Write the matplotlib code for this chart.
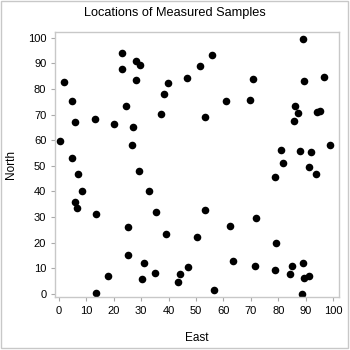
import matplotlib.pyplot as plt
from matplotlib.patches import Rectangle

plt.rcParams['font.family'] = ['Liberation Sans', 'DejaVu Sans']

east = [2.1, 4.7, 6.0, 0.6, 4.7, 13.4, 20.3, 23.1, 22.9, 24.5, 27.2, 26.6, 28.0, 28.1, 29.8,
        39.8, 38.5, 37.2, 46.7, 51.4, 55.7, 53.2, 61.0, 69.6, 70.8,
        88.9, 89.3, 96.7, 86.0, 87.2, 85.7, 93.9, 95.3, 98.8, 81.0, 87.7, 92.0, 81.6, 91.2,
        93.6, 78.6, 71.9, 79.0, 71.3, 78.7, 85.0, 84.3, 88.8, 89.4, 91.1, 88.6,
        7.2, 8.4, 6.1, 6.6, 13.6, 13.6, 18.0, 25.1, 25.1, 29.2, 31.2, 30.4, 32.8,
        35.5, 39.2, 53.3, 50.3, 62.4, 63.5, 35.0, 47.1, 44.1, 43.3, 56.5]
north = [82.9, 75.2, 67.2, 59.8, 53.0, 68.4, 66.4, 94.1, 87.7, 73.2, 65.2, 58.2, 83.4, 91.1, 89.4,
         82.5, 78.0, 70.4, 84.2, 88.9, 93.1, 69.0, 75.2, 75.8, 83.8,
         99.7, 83.0, 84.5, 73.2, 70.6, 67.4, 71.1, 71.6, 58.3, 56.0, 55.9, 55.6, 51.3, 49.7,
         46.9, 45.5, 29.5, 20.0, 11.1, 9.2, 11.1, 7.8, 12.1, 6.3, 7.0, 0.0,
         46.9, 40.1, 35.8, 33.7, 31.4, 0.5, 6.9, 26.3, 15.1, 48.0, 12.1, 6.0, 40.1,
         32.1, 23.4, 32.8, 22.1, 26.7, 12.7, 8.2, 10.5, 7.7, 4.7, 1.7]

fig = plt.figure(figsize=(3.5, 3.5), dpi=100)
ax = fig.add_axes([0.158, 0.152, 0.811, 0.757])

ax.scatter(east, north, s=30, color='black', linewidths=0)

ax.set_xlim(-1.2, 102.1)
ax.set_ylim(-1.1, 102.3)
ax.set_xticks(range(0, 101, 10))
ax.set_yticks(range(0, 101, 10))
ax.tick_params(labelsize=8, colors='#aaaaaa', labelcolor='black', length=3, width=0.8)
for s in ax.spines.values():
    s.set_color('#c8c8c8')
    s.set_linewidth(1)

fig.suptitle("Locations of Measured Samples", fontsize=9.2, x=0.5, y=0.98)
ax.set_xlabel("East", fontsize=8.5, labelpad=12)
ax.set_ylabel("North", fontsize=8.5, labelpad=8)

fig.patches.append(Rectangle((0.004, 0.006), 0.99, 0.99, transform=fig.transFigure,
                             fill=False, edgecolor='#c8c8c8', linewidth=1))

fig.savefig("out.png", dpi=100)
